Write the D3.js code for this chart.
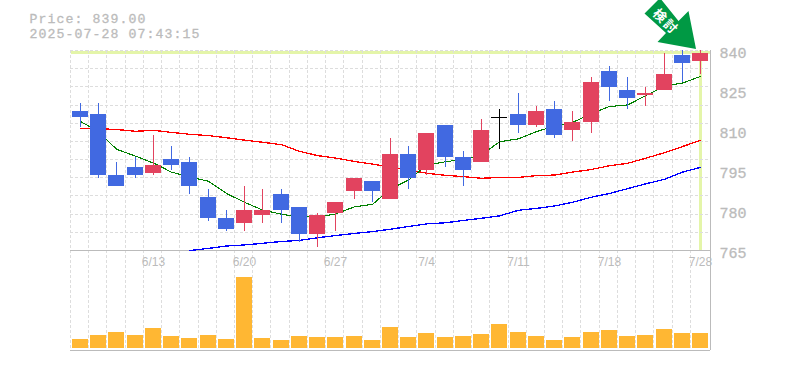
<!DOCTYPE html>
<html>
<head>
<meta charset="utf-8">
<script src="https://cdn.jsdelivr.net/npm/d3@7"></script>
<style>
html, body { margin: 0; padding: 0; background: #fff; overflow: hidden; }
text { font-family: "Liberation Mono", monospace; fill: #bbb; }
.heavy { stroke: #bbb; stroke-width: 0.3; }
</style>
</head>
<body>
<div id="chart-container"></div>
<script>
// Chart data
const dates = ["6/9","6/10","6/11","6/12","6/13","6/16","6/17","6/18","6/19","6/20","6/23","6/24","6/25","6/26","6/27","6/30","7/1","7/2","7/3","7/4","7/7","7/8","7/9","7/10","7/11","7/14","7/15","7/16","7/17","7/18","7/22","7/23","7/24","7/25","7/28"];
const opens = [817,816,793,796,794,799,798,785,777,775,778,786,781,771,779,787,791,784,801,795,812,800,798,815,816,812,818,810,813,832,825,823,825,838,836];
const closes = [815,793,789,793,797,797,789,777,773,780,780,780,771,778,783,792,787,801,792,809,800,795,810,815,812,817,808,813,828,826,822,824,831,835,839];
const highs = [820,820,798,800,808,804,800,788,780,789,788,788,781,779,783,792,791,807,804,809,812,802,814,818,824,819,821,817,830,834,830,826,839,840,840];
const lows = [811,792,789,792,793,795,786,776,772,772,775,775,768,766,772,784,783,784,788,793,796,789,798,803,809,811,807,806,809,821,818,819,825,828,831];
const volumes = [9,13,16,13,20,12,10,13,9,71,10,8,12,11,11,12,8,21,11,15,11,12,14,24,16,12,8,11,16,18,12,13,19,15,15];
const maShort = [813.2,809.4,802.8,800.2,797.6,794.2,792.4,790.8,786.2,782.9,780,778.4,777.4,777.4,778.5,781.2,782.1,787.9,791.2,796.8,798.1,799,800.6,805.6,806.7,809.4,811.5,812.8,816.2,818.8,819.4,822.8,826.5,827.6,830.1];
const maMid = [810.6,810.5,810.2,809.5,809.9,809.1,808.4,807.9,807.1,806.2,805.4,804.5,802,800.4,799.5,798.2,797.2,796.1,795,793.8,793,792.5,791.9,792.2,792.2,792.9,793.1,794.2,795.2,796.6,797.5,799.4,801.5,803.8,806.1];
const maLong = [null,null,null,null,null,null,764.8,765.6,766.5,766.9,767.5,768.2,768.6,769.6,770.4,771.2,771.9,772.8,773.8,774.8,775.2,776.1,776.9,777.8,779.9,780.6,781.5,782.9,784.8,786.2,788,789.8,791.5,794.2,796];
const priceTicks = [840,825,810,795,780,765];
const dateTicks = ["6/13","6/20","6/27","7/4","7/11","7/18","7/28"];
const lastPrice = 839;
const titleLines = ["Price: 839.00","2025-07-28 07:43:15"];

const svg = d3.select("#chart-container")
    .append("svg")
    .attr("width", 785)
    .attr("height", 370)
    .style("display", "block");

// Scales
const x = d3.scaleBand().domain(dates).range([70.9, 709.1]);
const y = d3.scaleLinear().domain([765, 840]).range([250, 50]);
const yVol = d3.scaleLinear().domain([0, 71]).range([348, 277]);
const center = d => Math.round(x(d) + x.bandwidth() / 2);

const gridColor = "#ddd";
const dash = "3,2";

// Highlight of the latest price and date
svg.append("line")
    .attr("x1", x.range()[0]).attr("x2", 710)
    .attr("y1", y(lastPrice) - 0.5).attr("y2", y(lastPrice) - 0.5)
    .attr("stroke", "#e4f5a9").attr("stroke-width", 3)
    .attr("shape-rendering", "crispEdges");

svg.append("line")
    .attr("x1", center(dates[34]) + 0.5).attr("x2", center(dates[34]) + 0.5)
    .attr("y1", 50).attr("y2", 250)
    .attr("stroke", "#e4f5a9").attr("stroke-width", 3);

// Grid: 11 rows in the price panel, one column per day in both panels
svg.append("g").selectAll("line")
    .data(d3.range(0, 11))
    .enter().append("line")
    .attr("x1", 70).attr("x2", 710)
    .attr("y1", d => Math.round(50 + d * 200 / 11) + 0.5)
    .attr("y2", d => Math.round(50 + d * 200 / 11) + 0.5)
    .attr("stroke", gridColor)
    .attr("stroke-dasharray", dash);

svg.append("g").selectAll("line")
    .data(dates)
    .enter().append("line")
    .attr("x1", d => Math.round(x(d)) - 0.5)
    .attr("x2", d => Math.round(x(d)) - 0.5)
    .attr("y1", 50).attr("y2", 350)
    .attr("stroke", gridColor)
    .attr("stroke-dasharray", dash);

// Panel frame
const frameColor = "#bbb";
[[70, 250, 710, 250], [70, 350, 710, 350], [710, 50, 710, 350]].forEach(f => {
    svg.append("line")
        .attr("x1", f[0]).attr("y1", f[1] + (f[1] === f[3] ? 0.5 : 0))
        .attr("x2", f[2]).attr("y2", f[3] + (f[1] === f[3] ? 0.5 : 0))
        .attr("stroke", frameColor)
        .attr("transform", f[0] === f[2] ? "translate(0.5,0)" : null);
});

// Moving averages
const lineFor = d3.line()
    .defined(d => d.v !== null)
    .x(d => center(d.date) + 0.5)
    .y(d => y(d.v));

[[maLong, "#0000ff", 1.3], [maMid, "#ff0000", 1.3], [maShort, "#008000", 1.1]].forEach(([values, color, weight]) => {
    svg.append("path")
        .datum(dates.map((date, i) => ({ date, v: values[i] })))
        .attr("d", lineFor)
        .attr("fill", "none")
        .attr("stroke", color)
        .attr("stroke-width", weight)
        .attr("shape-rendering", "crispEdges");
});

// Candles
const candleColor = i => closes[i] > opens[i] ? "#e2435f" : closes[i] < opens[i] ? "#4169e1" : "#000";
const candles = svg.append("g").attr("shape-rendering", "crispEdges");

candles.selectAll(".wick")
    .data(dates)
    .enter().append("rect")
    .attr("x", d => center(d))
    .attr("y", (d, i) => y(highs[i]))
    .attr("width", 1)
    .attr("height", (d, i) => y(lows[i]) - y(highs[i]))
    .attr("fill", (d, i) => candleColor(i));

candles.selectAll(".body")
    .data(dates)
    .enter().append("rect")
    .attr("x", d => center(d) - 8)
    .attr("y", (d, i) => y(Math.max(opens[i], closes[i])))
    .attr("width", 16)
    .attr("height", (d, i) => Math.max(1, Math.abs(y(opens[i]) - y(closes[i]))))
    .attr("fill", (d, i) => candleColor(i));

// Volume bars
svg.append("g").attr("shape-rendering", "crispEdges")
    .selectAll("rect")
    .data(dates)
    .enter().append("rect")
    .attr("x", d => center(d) - 8)
    .attr("y", (d, i) => yVol(volumes[i]))
    .attr("width", 16)
    .attr("height", (d, i) => yVol(0) - yVol(volumes[i]))
    .attr("fill", "#ffb733");

// Labels
svg.selectAll(".price-label")
    .data(priceTicks)
    .enter().append("text")
    .attr("class", "heavy")
    .attr("x", 719.5)
    .attr("y", d => y(d) + 8)
    .attr("font-size", 15)
    .text(d => d);

svg.selectAll(".date-label")
    .data(dateTicks)
    .enter().append("text")
    .attr("x", d => center(d) + 0.5)
    .attr("y", 266)
    .attr("text-anchor", "middle")
    .style("font-family", "'Liberation Sans', sans-serif")
    .attr("font-size", 12)
    .text(d => d);

svg.selectAll(".title-line")
    .data(titleLines)
    .enter().append("text")
    .attr("class", "heavy")
    .attr("x", 29.5)
    .attr("y", (d, i) => 23 + i * 15)
    .attr("font-size", 13.2)
    .style("letter-spacing", "1.08px")
    .text(d => d);

// Green arrow badge pointing at the latest candle
svg.append("path")
    .attr("d", "M644.5,13.5 L660,-2 L678.5,21 L688.5,11 L696,49 L657.5,42 L666,33 Z")
    .attr("fill", "#009944");

svg.append("text")
    .attr("transform", "translate(666.5,21) rotate(45)")
    .attr("text-anchor", "middle")
    .attr("dominant-baseline", "central")
    .style("font-family", "'Noto Sans CJK JP', sans-serif")
    .style("font-weight", 700)
    .style("fill", "#fff")
    .style("letter-spacing", "2px")
    .attr("font-size", 13)
    .text("検討");
</script>
</body>
</html>
